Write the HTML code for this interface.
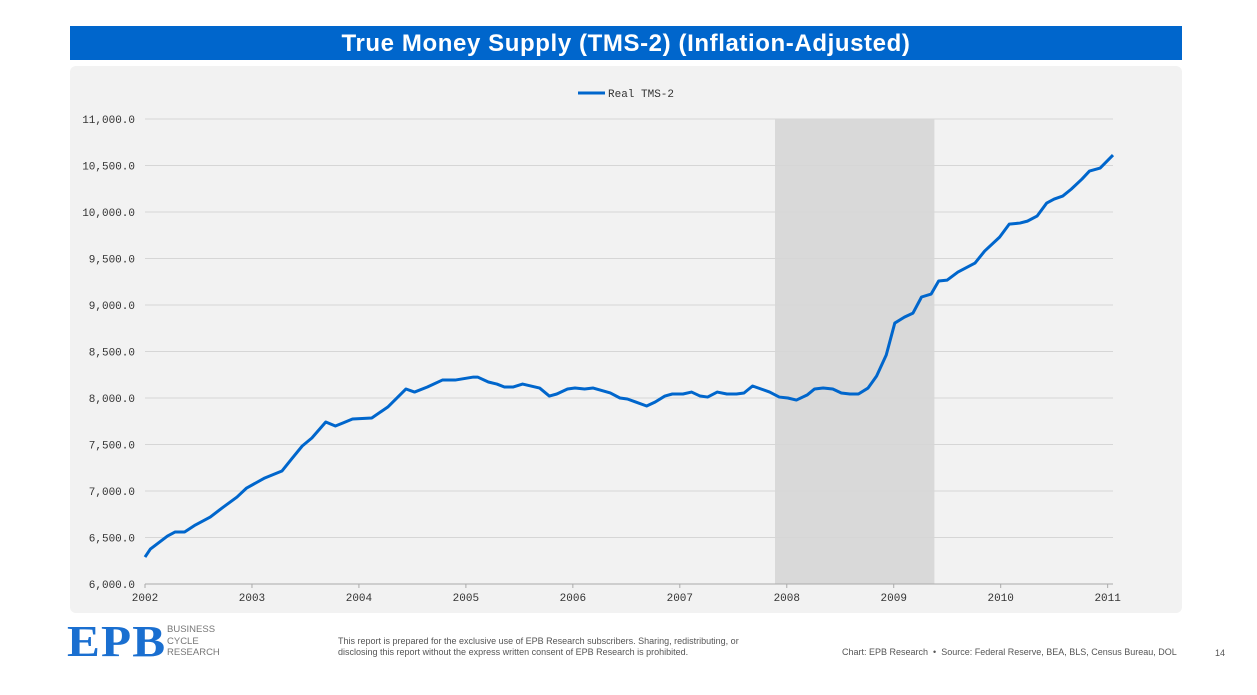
<!DOCTYPE html>
<html><head><meta charset="utf-8"><style>
body{margin:0;width:1257px;height:695px;background:#fff;font-family:"Liberation Sans",sans-serif;position:relative;overflow:hidden}
#title{position:absolute;left:70px;top:26px;width:1112px;height:34px;background:#0066cc;color:#fff;font-weight:bold;font-size:24px;letter-spacing:0.6px;text-align:center;line-height:35px}
#panel{position:absolute;left:70px;top:66px;width:1112px;height:547px;background:#f2f2f2;border-radius:6px}
svg{position:absolute;left:0;top:0}
.ft{position:absolute;font-size:9px;color:#555}
</style></head><body>
<div id="title">True Money Supply (TMS-2) (Inflation-Adjusted)</div>
<div id="panel"></div>
<svg id="chart" width="1257" height="695"></svg>
<div style="position:absolute;left:67px;top:620px;font-family:'Liberation Serif',serif;font-weight:bold;font-size:44px;color:#1a6fd0;letter-spacing:1px;line-height:44px;transform:scaleX(1.12);transform-origin:left">EPB</div>
<div class="ft" style="left:167px;top:624px;font-size:9.5px;line-height:11.5px;color:#777">BUSINESS<br>CYCLE<br>RESEARCH</div>
<div class="ft" style="left:338px;top:636px;line-height:11px">This report is prepared for the exclusive use of EPB Research subscribers. Sharing, redistributing, or<br>disclosing this report without the express written consent of EPB Research is prohibited.</div>
<div class="ft" style="left:842px;top:647px">Chart: EPB Research &nbsp;•&nbsp; Source: Federal Reserve, BEA, BLS, Census Bureau, DOL</div>
<div class="ft" style="left:1215px;top:648px">14</div>
<script>
const years=[2002.00,2002.05,2002.21,2002.28,2002.37,2002.47,2002.61,2002.72,2002.86,2002.95,2003.12,2003.28,2003.37,2003.47,2003.56,2003.69,2003.78,2003.85,2003.94,2004.12,2004.27,2004.44,2004.52,2004.64,2004.78,2004.90,2005.07,2005.11,2005.21,2005.29,2005.36,2005.44,2005.53,2005.69,2005.78,2005.85,2005.95,2006.02,2006.11,2006.19,2006.35,2006.44,2006.51,2006.69,2006.77,2006.86,2006.93,2007.03,2007.11,2007.19,2007.26,2007.35,2007.44,2007.53,2007.60,2007.68,2007.84,2007.93,2008.01,2008.09,2008.19,2008.26,2008.34,2008.43,2008.51,2008.59,2008.67,2008.76,2008.84,2008.93,2009.01,2009.10,2009.18,2009.26,2009.35,2009.42,2009.50,2009.60,2009.76,2009.85,2009.99,2010.08,2010.18,2010.25,2010.34,2010.43,2010.50,2010.58,2010.66,2010.76,2010.83,2010.93,2011.05];
const values=[6290,6376,6516,6559,6559,6634,6720,6817,6935,7032,7140,7215,7344,7484,7570,7742,7699,7731,7774,7785,7903,8097,8064,8118,8193,8193,8225,8225,8172,8150,8118,8118,8150,8107,8021,8043,8097,8107,8097,8107,8054,8000,7989,7914,7957,8021,8043,8043,8064,8021,8010,8064,8043,8043,8054,8129,8064,8010,8000,7978,8032,8097,8107,8097,8054,8043,8043,8107,8236,8462,8806,8870,8913,9086,9118,9258,9268,9354,9451,9580,9730,9870,9881,9902,9956,10096,10139,10171,10246,10354,10440,10472,10612];
const yTicks=[6000,6500,7000,7500,8000,8500,9000,9500,10000,10500,11000];
const xTicks=[2002,2003,2004,2005,2006,2007,2008,2009,2010,2011];
const recessionStart=2007.89, recessionEnd=2009.38;
const svg=document.getElementById('chart');const NS='http://www.w3.org/2000/svg';
const X0=145,X1=1113,T0=2002,T1=2011.05,Y0=584,Y1=119,V0=6000,V1=11000;
const sx=t=>X0+(t-T0)/(T1-T0)*(X1-X0);
const sy=v=>Y0+(v-V0)/(V1-V0)*(Y1-Y0);
function mk(tag,attrs,parent){const e=document.createElementNS(NS,tag);for(const k in attrs)e.setAttribute(k,attrs[k]);(parent||svg).appendChild(e);return e;}
const rec=mk('rect',{x:sx(recessionStart),y:Y1,width:sx(recessionEnd)-sx(recessionStart),height:Y0-Y1,fill:'#d9d9d9'});


yTicks.forEach(v=>{
 const g=mk('line',{x1:X0,x2:X1,y1:sy(v),y2:sy(v),stroke:v===V0?'#aaa':'#d6d6d6','stroke-width':1});
 
 
 const t=mk('text',{x:135,y:sy(v)+4,'text-anchor':'end','font-size':11,'font-family':'Liberation Mono, monospace',fill:'#333'});
 t.textContent=v.toLocaleString('en-US',{minimumFractionDigits:1,maximumFractionDigits:1});
 
 
});
xTicks.forEach(y=>{
 const l=mk('line',{x1:sx(y),x2:sx(y),y1:Y0,y2:Y0+4,stroke:'#aaa'});
 
 
 const t=mk('text',{x:sx(y),y:Y0+17,'text-anchor':'middle','font-size':11,'font-family':'Liberation Mono, monospace',fill:'#333'});
 t.textContent=y;
 
 
});
const p=mk('polyline',{points:years.map((t,i)=>sx(t)+','+sy(values[i])).join(' '),fill:'none',stroke:'#0066cc','stroke-width':3,'stroke-linejoin':'round'});


const ll=mk('line',{x1:578,x2:605,y1:93,y2:93,stroke:'#0066cc','stroke-width':3});


const lt=mk('text',{x:608,y:97,'font-size':11,'font-family':'Liberation Mono, monospace',fill:'#333'});
lt.textContent='Real TMS-2';


</script>
</body></html>
